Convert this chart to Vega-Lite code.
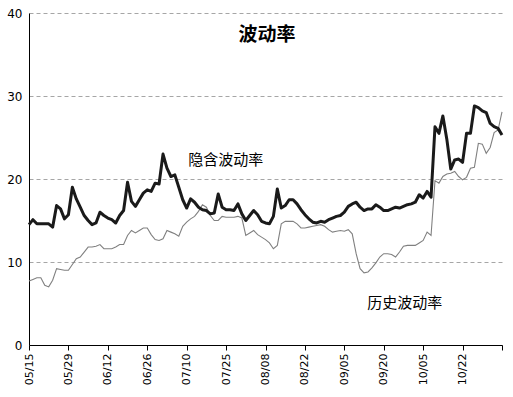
{
  "$schema": "https://vega.github.io/schema/vega-lite/v6.json",
  "width": 473,
  "height": 332,
  "autosize": "none",
  "padding": {"left": 29, "top": 13, "right": 11, "bottom": 52},
  "background": "white",
  "config": {
    "view": {"stroke": null},
    "font": "Noto Sans CJK SC"
  },
  "datasets": {
    "vol": [
      {"t":0,"implied":14.5,"hist":7.7},{"t":1,"implied":15.1,"hist":7.9},{"t":2,"implied":14.6,"hist":8.1},{"t":3,"implied":14.6,"hist":8.1},{"t":4,"implied":14.6,"hist":7.2},
      {"t":5,"implied":14.6,"hist":7.0},{"t":6,"implied":14.2,"hist":7.8},{"t":7,"implied":16.8,"hist":9.2},{"t":8,"implied":16.4,"hist":9.1},{"t":9,"implied":15.2,"hist":9.0},
      {"t":10,"implied":15.7,"hist":9.0},{"t":11,"implied":19.0,"hist":9.7},{"t":12,"implied":17.6,"hist":10.4},{"t":13,"implied":16.6,"hist":10.6},{"t":14,"implied":15.6,"hist":11.2},
      {"t":15,"implied":15.0,"hist":11.8},{"t":16,"implied":14.5,"hist":11.8},{"t":17,"implied":14.7,"hist":11.9},{"t":18,"implied":16.0,"hist":12.1},{"t":19,"implied":15.6,"hist":11.6},
      {"t":20,"implied":15.3,"hist":11.6},{"t":21,"implied":15.1,"hist":11.6},{"t":22,"implied":14.7,"hist":11.8},{"t":23,"implied":15.6,"hist":12.1},{"t":24,"implied":16.2,"hist":12.1},
      {"t":25,"implied":19.6,"hist":13.2},{"t":26,"implied":17.3,"hist":13.8},{"t":27,"implied":16.7,"hist":13.5},{"t":28,"implied":17.5,"hist":13.8},{"t":29,"implied":18.3,"hist":14.1},
      {"t":30,"implied":18.7,"hist":14.1},{"t":31,"implied":18.5,"hist":13.3},{"t":32,"implied":19.5,"hist":12.7},{"t":33,"implied":19.4,"hist":12.6},{"t":34,"implied":23.0,"hist":12.8},
      {"t":35,"implied":21.3,"hist":13.8},{"t":36,"implied":20.3,"hist":13.6},{"t":37,"implied":20.5,"hist":13.4},{"t":38,"implied":19.0,"hist":13.1},{"t":39,"implied":17.5,"hist":14.3},
      {"t":40,"implied":16.5,"hist":14.8},{"t":41,"implied":17.6,"hist":15.2},{"t":42,"implied":17.2,"hist":15.5},{"t":43,"implied":16.6,"hist":16.1},{"t":44,"implied":16.3,"hist":16.9},
      {"t":45,"implied":16.2,"hist":16.6},{"t":46,"implied":15.8,"hist":15.6},{"t":47,"implied":15.9,"hist":15.0},{"t":48,"implied":18.2,"hist":15.0},{"t":49,"implied":16.6,"hist":15.5},
      {"t":50,"implied":16.3,"hist":15.4},{"t":51,"implied":16.3,"hist":15.4},{"t":52,"implied":16.2,"hist":15.4},{"t":53,"implied":17.0,"hist":15.5},{"t":54,"implied":15.8,"hist":15.3},
      {"t":55,"implied":15.0,"hist":13.2},{"t":56,"implied":15.6,"hist":13.5},{"t":57,"implied":16.2,"hist":13.8},{"t":58,"implied":15.7,"hist":13.3},{"t":59,"implied":14.9,"hist":13.0},
      {"t":60,"implied":14.7,"hist":12.7},{"t":61,"implied":14.6,"hist":12.3},{"t":62,"implied":15.5,"hist":11.6},{"t":63,"implied":18.8,"hist":12.0},{"t":64,"implied":16.5,"hist":14.6},
      {"t":65,"implied":16.8,"hist":14.9},{"t":66,"implied":17.5,"hist":14.9},{"t":67,"implied":17.5,"hist":14.9},{"t":68,"implied":17.0,"hist":14.6},{"t":69,"implied":16.3,"hist":14.1},
      {"t":70,"implied":15.7,"hist":14.1},{"t":71,"implied":15.2,"hist":14.2},{"t":72,"implied":14.8,"hist":14.3},{"t":73,"implied":14.7,"hist":14.4},{"t":74,"implied":14.9,"hist":14.5},
      {"t":75,"implied":14.8,"hist":14.3},{"t":76,"implied":15.1,"hist":13.9},{"t":77,"implied":15.3,"hist":13.6},{"t":78,"implied":15.5,"hist":13.7},{"t":79,"implied":15.6,"hist":13.8},
      {"t":80,"implied":16.0,"hist":13.7},{"t":81,"implied":16.7,"hist":13.9},{"t":82,"implied":17.0,"hist":13.4},{"t":83,"implied":17.2,"hist":11.0},{"t":84,"implied":16.6,"hist":9.2},
      {"t":85,"implied":16.2,"hist":8.7},{"t":86,"implied":16.4,"hist":8.8},{"t":87,"implied":16.4,"hist":9.3},{"t":88,"implied":16.9,"hist":9.9},{"t":89,"implied":16.6,"hist":10.6},
      {"t":90,"implied":16.2,"hist":11.0},{"t":91,"implied":16.2,"hist":11.0},{"t":92,"implied":16.4,"hist":10.9},{"t":93,"implied":16.6,"hist":10.6},{"t":94,"implied":16.5,"hist":11.2},
      {"t":95,"implied":16.7,"hist":11.9},{"t":96,"implied":16.9,"hist":12.0},{"t":97,"implied":17.0,"hist":12.0},{"t":98,"implied":17.2,"hist":12.0},{"t":99,"implied":18.1,"hist":12.3},
      {"t":100,"implied":17.7,"hist":12.6},{"t":101,"implied":18.5,"hist":13.6},{"t":102,"implied":17.8,"hist":13.2},{"t":103,"implied":26.3,"hist":19.8},{"t":104,"implied":25.5,"hist":19.5},
      {"t":105,"implied":27.6,"hist":20.3},{"t":106,"implied":24.8,"hist":20.6},{"t":107,"implied":21.2,"hist":20.7},{"t":108,"implied":22.3,"hist":20.9},{"t":109,"implied":22.4,"hist":20.3},
      {"t":110,"implied":22.0,"hist":19.9},{"t":111,"implied":25.5,"hist":20.2},{"t":112,"implied":25.5,"hist":21.3},{"t":113,"implied":28.8,"hist":21.4},{"t":114,"implied":28.6,"hist":24.3},
      {"t":115,"implied":28.2,"hist":24.2},{"t":116,"implied":28.0,"hist":23.1},{"t":117,"implied":26.7,"hist":23.8},{"t":118,"implied":26.3,"hist":25.6},{"t":119,"implied":26.1,"hist":25.9},
      {"t":120,"implied":25.3,"hist":28.1}
    ],
    "notes": [
      {"t":40.4,"v":22.3,"label":"隐含波动率"},
      {"t":85.8,"v":5.1,"label":"历史波动率"}
    ],
    "heading": [
      {"t":60.4,"v":37.3,"label":"波动率"}
    ]
  },
  "data": {"name": "vol"},
  "layer": [
    {
      "mark": {"type": "line", "color": "#808080", "strokeWidth": 1.1},
      "encoding": {
        "x": {
          "field": "t", "type": "quantitative",
          "scale": {"domain": [0, 120], "nice": false, "zero": false},
          "axis": {
            "values": [0,10,20,30,40,50,60,70,80,90,100,110,120],
            "tickCount": 13,
            "labelExpr": "['05/15','05/29','06/12','06/26','07/10','07/25','08/08','08/22','09/05','09/20','10/05','10/22',''][round(datum.value/10)]",
            "labelAngle": -90, "labelAlign": "right", "labelBaseline": "middle",
            "labelFont": "DejaVu Sans", "labelFontSize": 11, "labelColor": "#000",
            "labelPadding": 3, "tickSize": 5, "tickColor": "#000", "domainColor": "#000",
            "grid": false, "title": null, "labelOverlap": false, "labelSeparation": 0, "labelBound": false
          }
        },
        "y": {
          "field": "hist", "type": "quantitative",
          "scale": {"domain": [0, 40], "nice": false},
          "axis": {
            "values": [0,10,20,30,40],
            "labelFont": "DejaVu Sans", "labelFontSize": 12, "labelColor": "#000",
            "ticks": false, "labelPadding": 7, "domainColor": "#000",
            "grid": true, "gridDash": [4, 3], "gridColor": "#a6a6a6", "gridWidth": 1,
            "title": null
          }
        }
      }
    },
    {
      "mark": {"type": "line", "color": "#1a1a1a", "strokeWidth": 3, "strokeJoin": "round"},
      "encoding": {
        "x": {"field": "t", "type": "quantitative"},
        "y": {"field": "implied", "type": "quantitative"}
      }
    },
    {
      "data": {"name": "notes"},
      "mark": {"type": "text", "align": "left", "baseline": "middle", "fontSize": 15, "font": "Noto Sans CJK SC", "color": "#000"},
      "encoding": {
        "x": {"field": "t", "type": "quantitative"},
        "y": {"field": "v", "type": "quantitative"},
        "text": {"field": "label"}
      }
    },
    {
      "data": {"name": "heading"},
      "mark": {"type": "text", "align": "center", "baseline": "middle", "fontSize": 19, "fontWeight": "bold", "font": "Noto Sans CJK SC", "color": "#000"},
      "encoding": {
        "x": {"field": "t", "type": "quantitative"},
        "y": {"field": "v", "type": "quantitative"},
        "text": {"field": "label"}
      }
    }
  ]
}
